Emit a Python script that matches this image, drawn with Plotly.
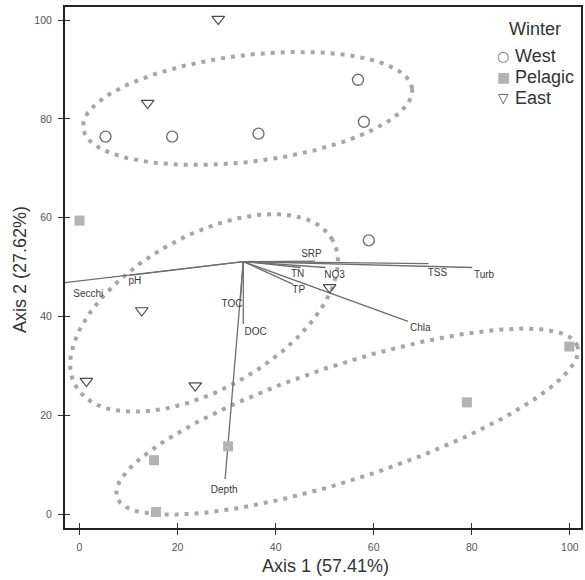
import numpy as np
import plotly.graph_objects as go

# ---- data ----
west_x = [5.3, 18.9, 36.5, 56.8, 58.0, 59.0]
west_y = [76.4, 76.4, 77.0, 87.9, 79.4, 55.4]
pelagic_x = [0.0, 30.3, 15.2, 15.6, 79.0, 99.9]
pelagic_y = [59.4, 13.7, 10.9, 0.4, 22.6, 33.9]
east_x = [28.3, 13.9, 12.7, 1.4, 23.6, 51.0]
east_y = [100.2, 83.2, 41.2, 26.9, 26.0, 45.9]

origin = (33.4, 51.1)
vec_names = ["Secchi", "pH", "SRP", "TN", "TP", "NO3", "TSS", "Turb", "Chla", "TOC", "DOC", "Depth"]
vec_x = [-3.3, 10.2, 48.0, 45.1, 43.6, 50.2, 71.2, 80.1, 67.0, 32.8, 33.4, 29.7]
vec_y = [46.8, 48.3, 51.2, 49.9, 46.5, 49.9, 50.7, 49.9, 39.0, 43.4, 38.4, 7.1]
lab_x = [1.8, 11.3, 47.3, 44.5, 44.7, 52.0, 73.0, 82.5, 69.5, 31.1, 35.9, 29.5]
lab_y = [44.4, 47.1, 52.5, 48.5, 45.3, 48.3, 48.7, 48.3, 37.6, 42.4, 36.8, 4.8]

# group ellipses: center x, center y, semi-major, semi-minor, angle (deg)
ell_cx = [34.3, 25.4, 54.6]
ell_cy = [82.1, 40.7, 18.7]
ell_a = [33.8, 30.1, 49.4]
ell_b = [10.8, 15.5, 11.6]
ell_ang = [6.8, 29.4, 18.0]

legend_title = "Winter"
legend_names = ["West", "Pelagic", "East"]
legend_symbols = ["○", "■", "▽"]
legend_symbol_sizes = [14, 14, 13.5]
legend_colors = ["#6f6f6f", "#b3b3b3", "#4a4a4a"]

XR = [-2.96, 102.28]
YR = [-2.83, 102.64]
TICKS = [0, 20, 40, 60, 80, 100]

fig = go.Figure()

# ellipses
t = np.linspace(0, 2 * np.pi, 300)
for cx, cy, a, b, ang in zip(ell_cx, ell_cy, ell_a, ell_b, ell_ang):
    th = np.deg2rad(ang)
    ex = cx + a * np.cos(t) * np.cos(th) - b * np.sin(t) * np.sin(th)
    ey = cy + a * np.cos(t) * np.sin(th) + b * np.sin(t) * np.cos(th)
    fig.add_trace(go.Scatter(x=ex, y=ey, mode="lines", showlegend=False, hoverinfo="skip",
                             line=dict(color="#a6a6a6", width=4, dash="4px,6px")))

# vectors
for vx, vy in zip(vec_x, vec_y):
    fig.add_trace(go.Scatter(x=[origin[0], vx], y=[origin[1], vy], mode="lines",
                             showlegend=False, hoverinfo="skip",
                             line=dict(color="#6e6e6e", width=1.3)))

fig.add_trace(go.Scatter(x=lab_x, y=lab_y, text=vec_names, mode="text", showlegend=False,
                         textfont=dict(family="Liberation Sans, Arial", size=10, color="#3a3a3a"),
                         hoverinfo="skip"))

# points
fig.add_trace(go.Scatter(x=west_x, y=west_y, mode="markers", name="West", showlegend=False,
                         marker=dict(symbol="circle-open", size=11, color="#6f6f6f",
                                     line=dict(width=1.4, color="#6f6f6f"))))
fig.add_trace(go.Scatter(x=pelagic_x, y=pelagic_y, mode="markers", name="Pelagic", showlegend=False,
                         marker=dict(symbol="square", size=10, color="#b3b3b3",
                                     line=dict(width=0))))
fig.add_trace(go.Scatter(x=east_x, y=east_y, mode="markers", name="East", showlegend=False,
                         marker=dict(symbol="triangle-down-open", size=11, color="#4a4a4a",
                                     line=dict(width=1.2, color="#4a4a4a"))))

# empty trace so the overlay axes (inner half of the crossing ticks) are drawn
fig.add_trace(go.Scatter(x=[], y=[], xaxis="x2", yaxis="y2", showlegend=False, hoverinfo="skip"))

tickfont = dict(family="Liberation Sans, Arial", size=10.5, color="#555555")
axis_common = dict(showgrid=False, zeroline=False, showline=True, mirror=True, automargin=False,
                   linecolor="#222222", linewidth=2, ticks="outside", ticklen=5,
                   tickcolor="#333333", tickwidth=1.3, tickfont=tickfont)
overlay_common = dict(showgrid=False, zeroline=False, showline=False, automargin=False,
                      ticks="inside", ticklen=5, tickcolor="#333333", tickwidth=1.3,
                      showticklabels=False, tickvals=TICKS)

W, H = 585, 580
ML, MR, MT, MB = 65, 4, 7, 52
PW, PH = W - ML - MR, H - MT - MB


def px_x(p):
    return (p - ML) / PW


def px_y(p):
    return (H - MB - p) / PH


annotations = [
    dict(text="Axis 1 (57.41%)", xref="paper", yref="paper", x=px_x(325), y=px_y(566),
         xanchor="center", yanchor="middle", showarrow=False,
         font=dict(size=18, color="#333333")),
    dict(text="Axis 2 (27.62%)", xref="paper", yref="paper", x=px_x(20), y=px_y(270),
         xanchor="center", yanchor="middle", showarrow=False, textangle=-90,
         font=dict(size=18, color="#333333")),
    dict(text=legend_title, xref="paper", yref="paper", x=px_x(535), y=px_y(29),
         xanchor="center", yanchor="middle", showarrow=False, height=21,
         font=dict(size=18, color="#333333")),
]
for i, (nm, sym, ss, col) in enumerate(zip(legend_names, legend_symbols, legend_symbol_sizes, legend_colors)):
    ypix = 55 + 21 * i
    annotations.append(dict(text=sym, xref="paper", yref="paper", x=px_x(503), y=px_y(ypix),
                            xanchor="center", yanchor="middle", showarrow=False, height=21,
                            font=dict(size=ss, color=col, family="DejaVu Sans")))
    annotations.append(dict(text=nm, xref="paper", yref="paper", x=px_x(513), y=px_y(ypix),
                            xanchor="left", yanchor="middle", showarrow=False, height=21,
                            font=dict(size=18, color="#333333")))

fig.update_layout(
    width=W, height=H,
    margin=dict(l=ML, r=MR, t=MT, b=MB, autoexpand=False),
    plot_bgcolor="white", paper_bgcolor="white",
    font=dict(family="Liberation Sans, Arial", color="#333333"),
    xaxis=dict(range=XR, tickvals=TICKS, ticklabelstandoff=3, **axis_common),
    yaxis=dict(range=YR, tickvals=TICKS, ticklabelstandoff=4, **axis_common),
    xaxis2=dict(range=XR, overlaying="x", anchor="y", side="bottom", **overlay_common),
    yaxis2=dict(range=YR, overlaying="y", anchor="x", side="left", **overlay_common),
    annotations=annotations,
    showlegend=False,
)

fig.write_html("out.html", config={"displayModeBar": False},
               post_script="document.body.style.margin='0';")
